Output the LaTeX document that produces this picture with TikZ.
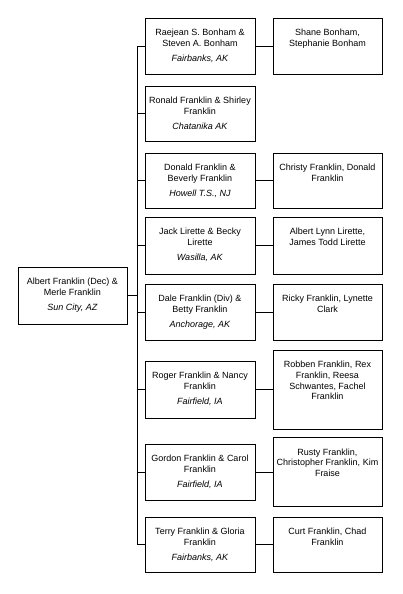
\documentclass[tikz,border=0pt]{standalone}
\usepackage{fontspec}
\setmainfont{Liberation Sans}
\usepackage{tikz}
\tikzset{
  famsbox/.style={draw, line width=0.8pt, inner xsep=2pt, inner ysep=0pt,
    font=\fontsize{9}{10.8}\selectfont},
}
\newcommand{\FAM}[4]{\parbox[t][#1][t]{#2}{\centering\rule{0pt}{17.5pt}#3\\[4.5pt]\textit{#4}}}
\newcommand{\KIDS}[2]{\parbox[t][#1][t]{105pt}{\centering\rule{0pt}{17.5pt}#2}}

\begin{document}
\begin{tikzpicture}

  \newcommand\RX{72.5pt};
  \newcommand\MX{200pt};
  \newcommand\CX{327.5pt};

  \useasboundingbox (0pt,0pt) rectangle (402pt,-594pt); %% positioning

  %% parents
  \node[famsbox] (root) at (\RX,-295.5pt)
  {\FAM{57pt}{105pt}{Albert Franklin (Dec) \&\\Merle Franklin}{Sun City, AZ}};

  %% couples
  \node[famsbox] (m1) at (\MX,-46pt)
  {\FAM{56pt}{106pt}{Raejean S. Bonham \&\\Steven A. Bonham}{Fairbanks, AK}};
  \node[famsbox] (m2) at (\MX,-113.5pt)
  {\FAM{55pt}{106pt}{Ronald Franklin \& Shirley\\Franklin}{Chatanika AK}};
  \node[famsbox] (m3) at (\MX,-180.5pt)
  {\FAM{55pt}{106pt}{Donald Franklin \&\\Beverly Franklin}{Howell T.S., NJ}};
  \node[famsbox] (m4) at (\MX,-245.5pt)
  {\FAM{57pt}{106pt}{Jack Lirette \& Becky\\Lirette}{Wasilla, AK}};
  \node[famsbox] (m5) at (\MX,-312pt)
  {\FAM{56pt}{106pt}{Dale Franklin (Div) \&\\Betty Franklin}{Anchorage, AK}};
  \node[famsbox] (m6) at (\MX,-389.5pt)
  {\FAM{57pt}{106pt}{Roger Franklin \& Nancy\\Franklin}{Fairfield, IA}};
  \node[famsbox] (m7) at (\MX,-472pt)
  {\FAM{56pt}{106pt}{Gordon Franklin \& Carol\\Franklin}{Fairfield, IA}};
  \node[famsbox] (m8) at (\MX,-544.5pt)
  {\FAM{55pt}{106pt}{Terry Franklin \& Gloria\\Franklin}{Fairbanks, AK}};

  %% children
  \node[famsbox] (c1) at (\CX,-46pt)
  {\KIDS{56pt}{Shane Bonham,\\Stephanie Bonham}};
  \node[famsbox] (c3) at (\CX,-180.5pt)
  {\KIDS{55pt}{Christy Franklin, Donald\\Franklin}};
  \node[famsbox] (c4) at (\CX,-245.5pt)
  {\KIDS{57pt}{Albert Lynn Lirette,\\James Todd Lirette}};
  \node[famsbox] (c5) at (\CX,-312pt)
  {\KIDS{56pt}{Ricky Franklin, Lynette\\Clark}};
  \node[famsbox] (c6) at (\CX,-389.5pt)
  {\KIDS{79pt}{Robben Franklin, Rex\\Franklin, Reesa\\Schwantes, Fachel\\Franklin}};
  \node[famsbox] (c7) at (\CX,-472pt)
  {\KIDS{69pt}{Rusty Franklin,\\Christopher Franklin, Kim\\Fraise}};
  \node[famsbox] (c8) at (\CX,-544.5pt)
  {\KIDS{55pt}{Curt Franklin, Chad\\Franklin}};

  %% connectors
  \coordinate (trunk) at (137pt,0pt);
  \draw[line width=0.8pt] (root.east) -- (root.east -| trunk);
  \draw[line width=0.8pt] (m1.west -| trunk) -- (m8.west -| trunk);
  \draw[line width=0.8pt] (m1.west -| trunk) -- (m1.west);
  \draw[line width=0.8pt] (m2.west -| trunk) -- (m2.west);
  \draw[line width=0.8pt] (m3.west -| trunk) -- (m3.west);
  \draw[line width=0.8pt] (m4.west -| trunk) -- (m4.west);
  \draw[line width=0.8pt] (m5.west -| trunk) -- (m5.west);
  \draw[line width=0.8pt] (m6.west -| trunk) -- (m6.west);
  \draw[line width=0.8pt] (m7.west -| trunk) -- (m7.west);
  \draw[line width=0.8pt] (m8.west -| trunk) -- (m8.west);

  \draw[line width=0.8pt] (m1.east) -- (c1.west);
  \draw[line width=0.8pt] (m3.east) -- (c3.west);
  \draw[line width=0.8pt] (m4.east) -- (c4.west);
  \draw[line width=0.8pt] (m5.east) -- (c5.west);
  \draw[line width=0.8pt] (m6.east) -- (c6.west);
  \draw[line width=0.8pt] (m7.east) -- (c7.west);
  \draw[line width=0.8pt] (m8.east) -- (c8.west);

\end{tikzpicture}
\end{document}
